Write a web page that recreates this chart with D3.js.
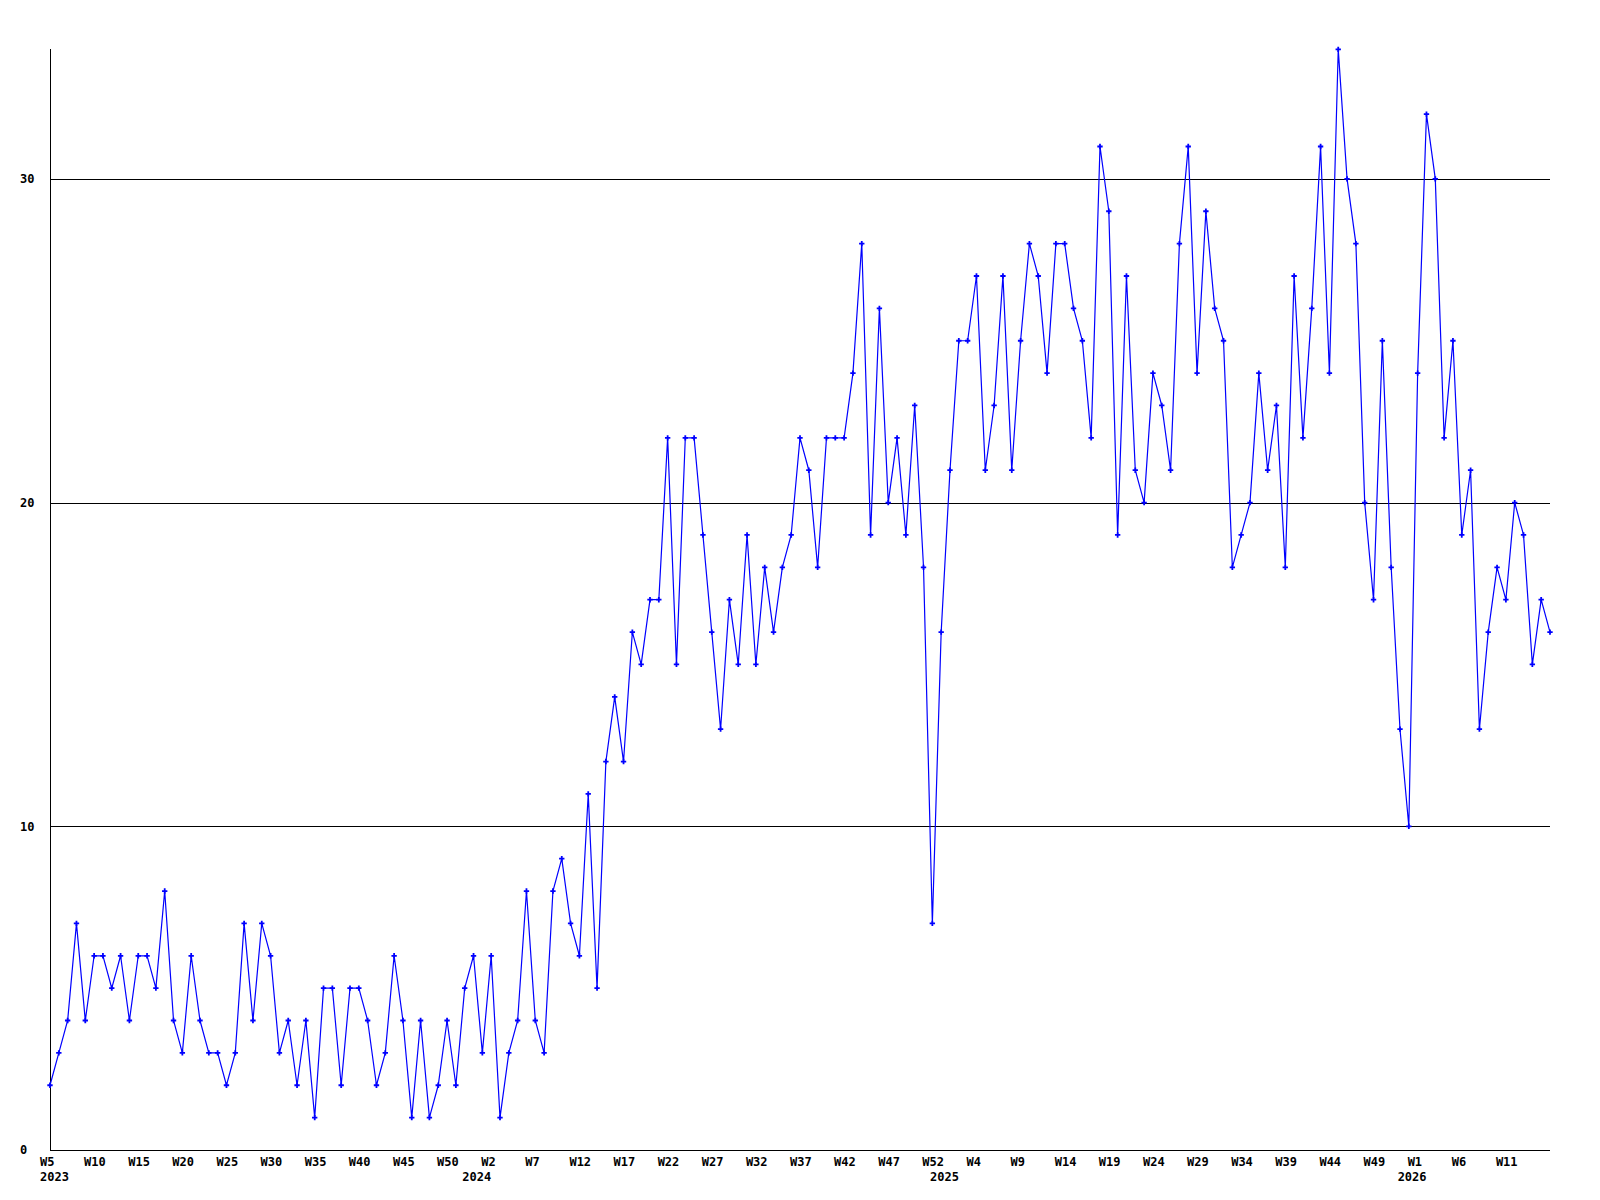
<!DOCTYPE html>
<html>
<head>
<meta charset="utf-8">
<script src="https://cdn.jsdelivr.net/npm/d3@7"></script>
<style>
  html, body { margin: 0; padding: 0; background: #ffffff; }
  svg { display: block; }
  text { font-family: "DejaVu Sans Mono", monospace; font-weight: bold; font-size: 12px; fill: #000; }
</style>
</head>
<body>
<svg id="chart" width="1600" height="1200"></svg>
<script>
// ---- data ----
// week ranges per year (labelled W1..W53 style as in the source)
const yearStart = [2023, 2024, 2025, 2026];
const firstWeek = [5, 1, 1, 1];
const lastWeek  = [53, 53, 53, 16];

const values = [
  2,3,4,7,4,6,6,5,6,4,
  6,6,5,8,4,3,6,4,3,3,
  2,3,7,4,7,6,3,4,2,4,
  1,5,5,2,5,5,4,2,3,6,
  4,1,4,1,2,4,2,5,6,3,
  6,1,3,4,8,4,3,8,9,7,
  6,11,5,12,14,12,16,15,17,17,
  22,15,22,22,19,16,13,17,15,19,
  15,18,16,18,19,22,21,18,22,22,
  22,24,28,19,26,20,22,19,23,18,
  7,16,21,25,25,27,21,23,27,21,
  25,28,27,24,28,28,26,25,22,31,
  29,19,27,21,20,24,23,21,28,31,
  24,29,26,25,18,19,20,24,21,23,
  18,27,22,26,31,24,34,30,28,20,
  17,25,18,13,10,24,32,30,22,25,
  19,21,13,16,18,17,20,19,15,17,
  16
];

const yTicks = [0, 10, 20, 30];
const yMax = 34;
const tickEvery = 5;
const lastTickIndex = 165;

// categories
const categories = [];
yearStart.forEach((yr, i) => {
  for (let w = firstWeek[i]; w <= lastWeek[i]; w++) categories.push({ year: yr, week: w, key: yr + "-W" + w });
});
const data = categories.map((c, i) => ({ ...c, value: values[i] }));

// ---- layout ----
const plotLeft = 50, plotRight = 1550, plotTop = 49.4, plotBottom = 1150;
const svg = d3.select("#chart");

const x = d3.scalePoint().domain(categories.map(c => c.key)).range([plotLeft, plotRight]);
const y = d3.scaleLinear().domain([0, yMax]).range([plotBottom, plotTop]);

// gridlines
svg.append("g").selectAll("line")
  .data(yTicks.filter(t => t > 0))
  .join("line")
  .attr("x1", plotLeft).attr("x2", plotRight)
  .attr("y1", d => Math.round(y(d)) + 0.5).attr("y2", d => Math.round(y(d)) + 0.5)
  .attr("stroke", "#000").attr("stroke-width", 1)
  .attr("shape-rendering", "crispEdges");

// axes lines
svg.append("line")
  .attr("x1", plotLeft + 0.5).attr("x2", plotLeft + 0.5)
  .attr("y1", plotTop).attr("y2", plotBottom + 0.5)
  .attr("stroke", "#000").attr("shape-rendering", "crispEdges");
svg.append("line")
  .attr("x1", plotLeft).attr("x2", plotRight)
  .attr("y1", plotBottom + 0.5).attr("y2", plotBottom + 0.5)
  .attr("stroke", "#000").attr("shape-rendering", "crispEdges");

// y labels
svg.append("g").selectAll("text")
  .data(yTicks)
  .join("text")
  .attr("x", 20)
  .attr("y", d => y(d))
  .attr("dy", "0.36em")
  .text(d => d);

// x labels (week)
const tickData = data.filter((d, i) => i % tickEvery === 0 && i <= lastTickIndex);
const xg = svg.append("g");
tickData.forEach(d => {
  xg.append("text").attr("x", x(d.key) - 10).attr("y", 1165.5).text("W" + d.week);
});

// year labels: placed at the start of each year (week 1), or at the first point
yearStart.forEach((yr, i) => {
  const first = data.find(d => d.year === yr);
  const px = first.week === 1 ? x(first.key) - 20 : x(first.key) - 10;
  xg.append("text").attr("x", px).attr("y", 1181).text(yr);
});

// line
const line = d3.line().x(d => x(d.key)).y(d => y(d.value));
svg.append("path")
  .datum(data)
  .attr("d", line)
  .attr("fill", "none")
  .attr("stroke", "#0000ff")
  .attr("stroke-width", 1.2);

// markers
svg.append("g").selectAll("path")
  .data(data)
  .join("path")
  .attr("transform", d => `translate(${x(d.key)},${y(d.value)})`)
  .attr("d", d3.symbol(d3.symbolCross, 16))
  .attr("fill", "#0000ff");
</script>
</body>
</html>
